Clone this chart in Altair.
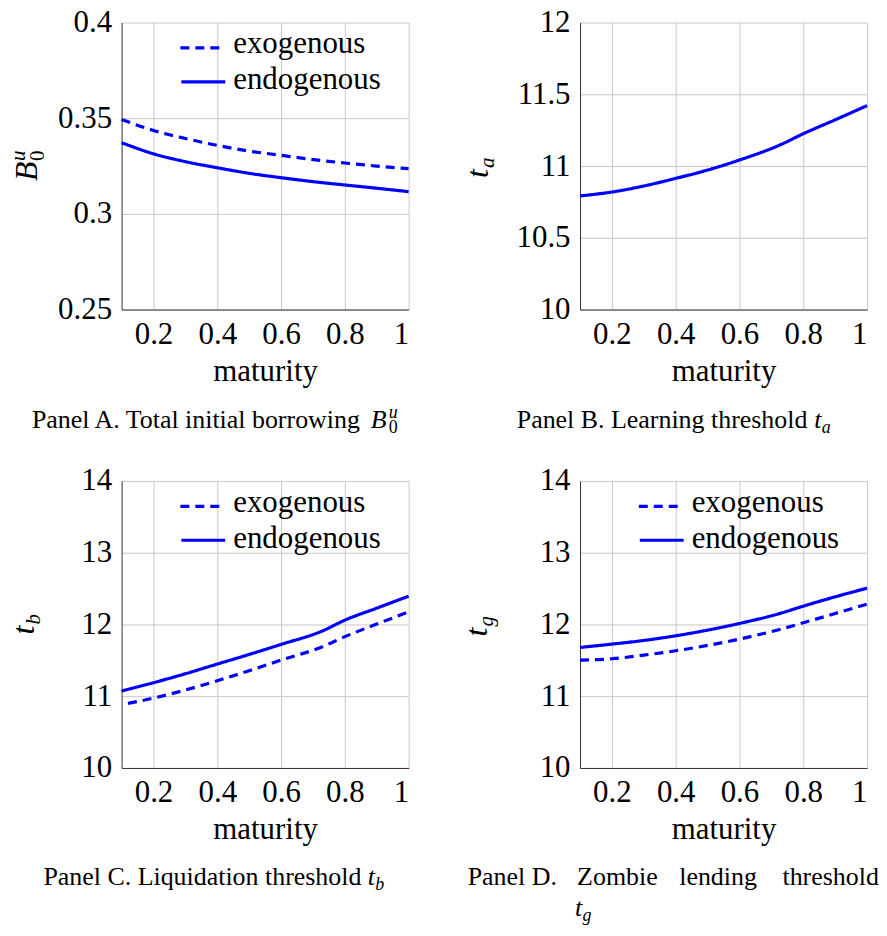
import altair as alt
import pandas as pd

# ---------------- data ----------------
maturity = [0.1, 0.2, 0.3, 0.4, 0.5, 0.6, 0.73, 0.8, 0.9, 1.0]
maturity_c_exo = [0.12, 0.2, 0.3, 0.4, 0.5, 0.6, 0.73, 0.8, 0.9, 1.0]

a_exo = [0.3493, 0.3436, 0.3394, 0.3358, 0.3328, 0.3306, 0.3278, 0.3266, 0.3250, 0.3236]
a_endo = [0.3372, 0.3314, 0.3273, 0.3241, 0.3212, 0.3189, 0.3163, 0.3151, 0.3134, 0.3116]
b_endo = [10.792, 10.819, 10.861, 10.914, 10.972, 11.042, 11.15, 11.225, 11.322, 11.421]
c_exo = [10.90, 10.974, 11.086, 11.216, 11.355, 11.503, 11.69, 11.83, 12.005, 12.176]
c_endo = [11.072, 11.188, 11.313, 11.448, 11.582, 11.722, 11.91, 12.06, 12.227, 12.394]
d_exo = [11.503, 11.522, 11.573, 11.633, 11.708, 11.796, 11.935, 12.023, 12.153, 12.283]
d_endo = [11.680, 11.726, 11.777, 11.842, 11.921, 12.014, 12.158, 12.255, 12.385, 12.506]

x_ticks = [0.2, 0.4, 0.6, 0.8, 1.0]
a_yticks = [0.25, 0.3, 0.35, 0.4]
b_yticks = [10, 10.5, 11, 11.5, 12]
cd_yticks = [10, 11, 12, 13, 14]

series_names = ["exogenous", "endogenous"]

FONT = "Liberation Serif"
BLUE = "#0000ff"
W = 288
H = 288
one = pd.DataFrame({"k": [0]})


def frame(pairs):
    rows = []
    for name, xs, ys in pairs:
        for xv, yv in zip(xs, ys):
            rows.append({"maturity": xv, "value": yv, "series": name})
    return pd.DataFrame(rows)


def txt(s, x, y, size, italic=False, align="left", angle=0):
    kw = dict(text=s, font=FONT, fontSize=size, align=align,
              baseline="alphabetic", color="black")
    if italic:
        kw["fontStyle"] = "italic"
    if angle:
        kw["angle"] = angle
    return alt.Chart(one).mark_text(**kw).encode(x=alt.value(x), y=alt.value(y))


def legend_marks():
    return [
        alt.Chart(one).mark_rule(color=BLUE, strokeWidth=3.2, strokeDash=[9, 6]).encode(
            x=alt.value(59), x2=alt.value(100), y=alt.value(25.5)),
        alt.Chart(one).mark_rule(color=BLUE, strokeWidth=3.2).encode(
            x=alt.value(60), x2=alt.value(104), y=alt.value(59.5)),
        txt("exogenous", 112, 31, 31),
        txt("endogenous", 112, 67, 31),
    ]


def lines(df, ydom, yticks):
    return alt.Chart(df).mark_line(color=BLUE, strokeWidth=3.2, interpolate="monotone").encode(
        x=alt.X("maturity:Q",
                scale=alt.Scale(domain=[0.1, 1.0], nice=False, zero=False),
                axis=alt.Axis(values=x_ticks, format="~g", title="maturity",
                              titlePadding=7, labelPadding=10)),
        y=alt.Y("value:Q",
                scale=alt.Scale(domain=ydom, nice=False, zero=False),
                axis=alt.Axis(values=yticks, format="~g", title=None, labelPadding=10)),
        strokeDash=alt.StrokeDash("series:N",
                                  scale=alt.Scale(domain=series_names, range=[[9, 6], [1, 0]]),
                                  legend=None),
        detail="series:N",
    )


# Panel A
dfA = frame([("exogenous", maturity, a_exo), ("endogenous", maturity, a_endo)])
panelA = alt.layer(
    lines(dfA, [0.25, 0.4], a_yticks),
    *legend_marks(),
    txt("B", -85, 159, 32, italic=True, angle=270),
    txt("0", -78, 139, 21, angle=270),
    txt("u", -97, 139, 21, italic=True, angle=270),
    txt("Panel A. Total initial borrowing", -90, 407, 26),
    txt("B", 250, 407, 26, italic=True),
    txt("0", 268, 412, 18),
    txt("u", 268, 397, 18, italic=True),
).properties(width=W, height=H)

# Panel B
dfB = frame([("endogenous", maturity, b_endo)])
panelB = alt.layer(
    lines(dfB, [10, 12], b_yticks),
    txt("t", -92, 156, 32, italic=True, angle=270),
    txt("a", -86, 146, 21, italic=True, angle=270),
    txt("Panel B. Learning threshold", -63.5, 407, 26),
    txt("t", 235, 407, 26, italic=True),
    txt("a", 242.5, 412, 18, italic=True),
).properties(width=W, height=H)

# Panel C
dfC = frame([("exogenous", maturity_c_exo, c_exo), ("endogenous", maturity, c_endo)])
panelC = alt.layer(
    lines(dfC, [10, 14], cd_yticks),
    *legend_marks(),
    txt("t", -88, 154, 32, italic=True, angle=270),
    txt("b", -82, 144, 21, italic=True, angle=270),
    txt("Panel C. Liquidation threshold", -78.5, 405, 26),
    txt("t", 247, 405, 26, italic=True),
    txt("b", 254.5, 410, 18, italic=True),
).properties(width=W, height=H)

# Panel D
dfD = frame([("exogenous", maturity, d_exo), ("endogenous", maturity, d_endo)])
panelD = alt.layer(
    lines(dfD, [10, 14], cd_yticks),
    *legend_marks(),
    txt("t", -93, 156, 32, italic=True, angle=270),
    txt("g", -87, 146, 21, italic=True, angle=270),
    txt("Panel D.", -68, 405, 26, align="center"),
    txt("Zombie", 37.5, 405, 26, align="center"),
    txt("lending", 138.5, 405, 26, align="center"),
    txt("threshold", 251.5, 405, 26, align="center"),
    txt("t", -5, 437, 26, italic=True),
    txt("g", 2.5, 442, 18, italic=True),
).properties(width=W, height=H)

chart = alt.concat(
    panelA, panelB, panelC, panelD,
    columns=2,
    spacing={"row": 172, "column": 172},
    bounds="flush",
).properties(
    padding={"left": 0, "top": -3, "right": 0, "bottom": 0}
).configure_axis(
    labelFont=FONT, labelFontSize=31, labelColor="black",
    titleFont=FONT, titleFontSize=31, titleFontWeight="normal", titleColor="black",
    gridColor="#c8c8c8", gridWidth=1, domainColor="#333333", domainWidth=1,
    ticks=False,
).configure_view(stroke=None)

chart.save("out.html", embed_options={"renderer": "svg", "actions": False})
